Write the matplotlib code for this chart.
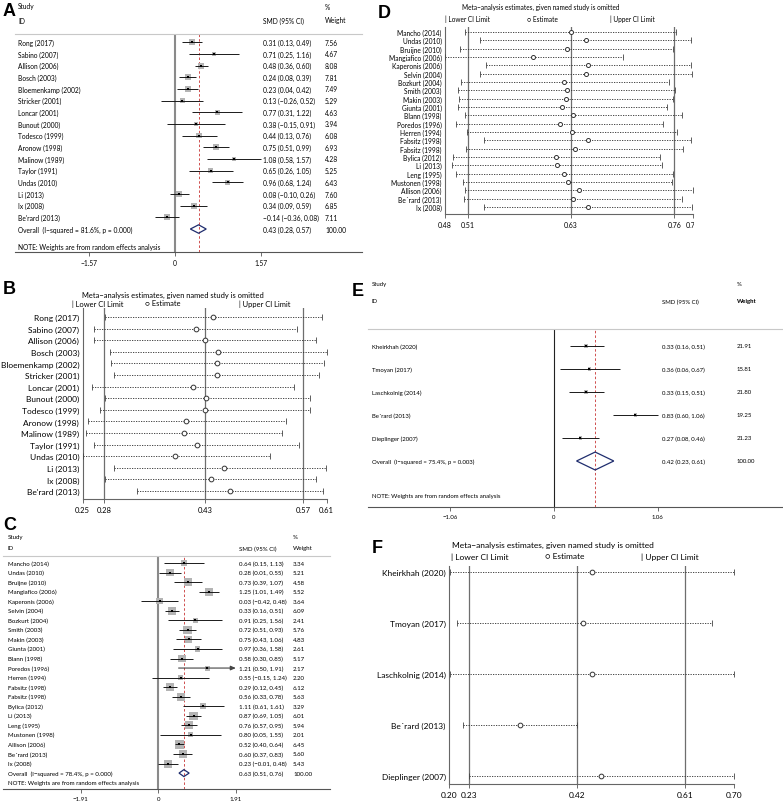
import numpy as np
import matplotlib
matplotlib.use("Agg")
import matplotlib.pyplot as plt
import matplotlib.transforms as mtransforms
from matplotlib.patches import Polygon

W, H = 783, 804
plt.rcParams['font.family'] = ['Lato', 'DejaVu Sans']

# ---------------- data ----------------
# panel A: forest plot
a_studies = ["Rong (2017)", "Sabino (2007)", "Allison (2006)", "Bosch (2003)",
             "Bloemenkamp (2002)", "Stricker (2001)", "Loncar (2001)", "Bunout (2000)",
             "Todesco (1999)", "Aronow (1998)", "Malinow (1989)", "Taylor (1991)",
             "Undas (2010)", "Li (2013)", "Ix (2008)", "Be'rard (2013)"]
a_smd = [0.31, 0.71, 0.48, 0.24, 0.23, 0.13, 0.77, 0.38, 0.44, 0.75, 1.08, 0.65, 0.96, 0.08, 0.34, -0.14]
a_lo = [0.13, 0.25, 0.36, 0.08, 0.04, -0.26, 0.31, -0.15, 0.13, 0.51, 0.58, 0.26, 0.68, -0.10, 0.09, -0.36]
a_hi = [0.49, 1.16, 0.60, 0.39, 0.42, 0.52, 1.22, 0.91, 0.76, 0.99, 1.57, 1.05, 1.24, 0.26, 0.59, 0.08]
a_wt = [7.56, 4.67, 8.08, 7.81, 7.49, 5.29, 4.63, 3.94, 6.08, 6.93, 4.28, 5.25, 6.43, 7.60, 6.85, 7.11]
a_overall = [0.43, 0.28, 0.57]
a_het = "Overall  (I\u2212squared = 81.6%, p = 0.000)"

# panel B: leave-one-out
b_studies = a_studies
b_est = [0.442, 0.417, 0.430, 0.449, 0.448, 0.447, 0.413, 0.432, 0.430, 0.403, 0.399, 0.418, 0.387, 0.458, 0.438, 0.466]
b_lo = [0.285, 0.268, 0.268, 0.292, 0.293, 0.298, 0.266, 0.284, 0.277, 0.259, 0.257, 0.269, 0.253, 0.297, 0.284, 0.331]
b_hi = [0.600, 0.564, 0.591, 0.607, 0.603, 0.596, 0.560, 0.583, 0.583, 0.548, 0.542, 0.566, 0.524, 0.606, 0.592, 0.602]
b_overall = [0.283, 0.430, 0.573]
b_xlim = [0.252, 0.607]

# panel C: forest plot
c_studies = ["Mancho (2014)", "Undas (2010)", "Bruijne (2010)", "Mangiafico (2006)",
             "Kaperonis (2006)", "Selvin (2004)", "Bozkurt (2004)", "Smith (2003)",
             "Makin (2003)", "Giunta (2001)", "Blann (1998)", "Poredos (1996)",
             "Herren (1994)", "Fabsitz (1998)", "Fabsitz (1998)", "Bylica (2012)",
             "Li (2013)", "Leng (1995)", "Mustonen (1998)", "Allison (2006)",
             "Be\u00b4rard (2013)", "Ix (2008)"]
c_smd = [0.64, 0.28, 0.73, 1.25, 0.03, 0.33, 0.91, 0.72, 0.75, 0.97, 0.58, 1.21, 0.55, 0.29, 0.56,
         1.11, 0.87, 0.76, 0.80, 0.52, 0.60, 0.23]
c_lo = [0.15, 0.01, 0.39, 1.01, -0.42, 0.16, 0.25, 0.51, 0.43, 0.36, 0.30, 0.50, -0.15, 0.12, 0.33,
        0.61, 0.69, 0.57, 0.05, 0.40, 0.37, -0.01]
c_hi = [1.13, 0.55, 1.07, 1.49, 0.48, 0.51, 1.56, 0.93, 1.06, 1.58, 0.85, 1.91, 1.24, 0.45, 0.78,
        1.61, 1.05, 0.95, 1.55, 0.64, 0.83, 0.48]
c_wt = [3.34, 5.21, 4.58, 5.52, 3.64, 6.09, 2.41, 5.76, 4.83, 2.61, 5.17, 2.17, 2.20, 6.12, 5.63,
        3.29, 6.01, 5.94, 2.01, 6.45, 5.60, 5.43]
c_overall = [0.63, 0.51, 0.76]
c_het = "Overall  (I\u2212squared = 78.4%, p = 0.000)"

# panel D: leave-one-out
d_studies = c_studies
d_est = [0.634, 0.652, 0.629, 0.588, 0.655, 0.652, 0.626, 0.629, 0.628, 0.623, 0.636, 0.620,
         0.635, 0.655, 0.639, 0.616, 0.617, 0.625, 0.630, 0.644, 0.636, 0.655]
d_lo = [0.504, 0.523, 0.498, 0.480, 0.530, 0.523, 0.499, 0.496, 0.497, 0.496, 0.505, 0.494,
        0.507, 0.528, 0.506, 0.490, 0.489, 0.494, 0.502, 0.505, 0.503, 0.528]
d_hi = [0.762, 0.780, 0.759, 0.698, 0.780, 0.782, 0.754, 0.761, 0.758, 0.751, 0.769, 0.746,
        0.763, 0.781, 0.771, 0.743, 0.745, 0.758, 0.757, 0.783, 0.769, 0.782]
d_overall = [0.508, 0.634, 0.760]
d_xlim = [0.48, 0.783]

# panel E: forest plot
e_studies = ["Kheirkhah (2020)", "Tmoyan (2017)", "Laschkolnig (2014)", "Be\u00b4rard (2013)",
             "Dieplinger (2007)"]
e_smd = [0.33, 0.36, 0.33, 0.83, 0.27]
e_lo = [0.16, 0.06, 0.15, 0.60, 0.08]
e_hi = [0.51, 0.67, 0.51, 1.06, 0.46]
e_wt = [21.91, 15.81, 21.80, 19.25, 21.23]
e_overall = [0.42, 0.23, 0.61]
e_het = "Overall  (I\u2212squared = 75.4%, p = 0.003)"

# panel F: leave-one-out
f_studies = e_studies
f_est = [0.450, 0.435, 0.451, 0.324, 0.466]
f_lo = [0.201, 0.213, 0.202, 0.224, 0.235]
f_hi = [0.700, 0.660, 0.700, 0.424, 0.699]
f_overall = [0.234, 0.424, 0.613]
f_xlim = [0.20, 0.70]

NOTE = "NOTE: Weights are from random effects analysis"
INF_TITLE = "Meta\u2212analysis estimates, given named study is omitted"

fig = plt.figure(figsize=(W / 100, H / 100), dpi=100)
# pixel coordinates, origin top-left
PX = mtransforms.Affine2D().scale(1.0 / W, -1.0 / H).translate(0, 1) + fig.transFigure


def axes_px(left, top, right, bottom):
    return fig.add_axes([left / W, 1 - bottom / H, (right - left) / W, (bottom - top) / H])


def num(v):
    return f"{v:.2f}".replace("-", "\u2212")


def letter(s, x, y):
    fig.text(x, y, s, transform=PX, fontsize=13, fontweight='bold',
             family='Liberation Sans', ha='left', va='center')


def forest(rect, studies, smd, lo, hi, wt, overall, het, zero_px, scale, row0, dy,
           cols, head_y, fs, tick_v, box_k, note_gap, dia_h, zero_color, zero_lw,
           arrow_at=None, bold_weight=False):
    left, top, right, bottom = rect
    ax = axes_px(*rect)
    ax.set_xlim((left - zero_px) / scale, (right - zero_px) / scale)
    ax.set_ylim((bottom - row0) / dy, (top - row0) / dy)
    tr = mtransforms.blended_transform_factory(PX, ax.transData)
    n = len(studies)
    idx = np.arange(n)
    smd, lo, hi, wt = map(np.asarray, (smd, lo, hi, wt))

    ax.axvline(0, color=zero_color, lw=zero_lw, zorder=1)
    ax.axvline(overall[0], color='#c83232', lw=0.6, ls=(0, (3, 2.5)), zorder=1)

    # weight boxes and point estimates
    side = box_k * np.sqrt(wt) * 0.72
    ax.scatter(smd, idx, marker='s', s=side ** 2, color='#b4b4b4', lw=0, zorder=2)
    if arrow_at is None:
        ax.hlines(idx, lo, hi, color='#1a1a1a', lw=0.7, zorder=3)
    else:
        ok = hi < arrow_at
        ax.hlines(idx[ok], lo[ok], hi[ok], color='#1a1a1a', lw=0.7, zorder=3)
        for i in idx[~ok]:
            ax.annotate('', xy=(arrow_at, i), xytext=(lo[i], i),
                        arrowprops=dict(arrowstyle='-|>,head_length=0.3,head_width=0.13',
                                        color='#444444', lw=0.8, shrinkA=0, shrinkB=0))
    ax.scatter(smd, idx, marker='s', s=4.5, color='black', lw=0, zorder=4)

    # overall diamond
    est, olo, ohi = overall
    ax.add_patch(Polygon([[olo, n], [est, n - dia_h], [ohi, n], [est, n + dia_h]],
                         closed=True, fill=False, ec='#1f2d6e', lw=0.9, zorder=4))

    # text columns
    for i in range(n):
        ax.text(cols[0], i, studies[i], transform=tr, fontsize=fs, va='center')
        ax.text(cols[1], i, f"{num(smd[i])} ({num(lo[i])}, {num(hi[i])})", transform=tr,
                fontsize=fs, va='center')
        ax.text(cols[2], i, f"{wt[i]:.2f}", transform=tr, fontsize=fs, va='center')
    ax.text(cols[0], n, het, transform=tr, fontsize=fs, va='center')
    ax.text(cols[1], n, f"{num(est)} ({num(olo)}, {num(ohi)})", transform=tr,
            fontsize=fs, va='center')
    ax.text(cols[2], n, "100.00", transform=tr, fontsize=fs, va='center')
    ax.text(cols[0], n + note_gap, NOTE, transform=tr, fontsize=fs, va='center')

    # header
    fig.text(cols[0], head_y[0], "Study", transform=PX, fontsize=fs, va='center')
    fig.text(cols[0], head_y[1], "ID", transform=PX, fontsize=fs, va='center')
    fig.text(cols[1], head_y[1], "SMD (95% CI)", transform=PX, fontsize=fs, va='center')
    fig.text(cols[2], head_y[0], "%", transform=PX, fontsize=fs, va='center')
    fig.text(cols[2], head_y[1], "Weight", transform=PX, fontsize=fs, va='center',
             fontweight='bold' if bold_weight else 'normal')

    for s in ('left', 'right'):
        ax.spines[s].set_visible(False)
    ax.spines['top'].set_color('#c8c8c8')
    ax.spines['top'].set_linewidth(0.8)
    ax.spines['bottom'].set_color('#555555')
    ax.spines['bottom'].set_linewidth(0.8)
    ax.set_yticks([])
    ax.set_xticks([-tick_v, 0, tick_v], [num(-tick_v), "0", num(tick_v)])
    ax.tick_params(axis='x', length=3, width=0.6, color='#555555', labelsize=fs, pad=2)
    return ax


def influence(rect, studies, est, lo, hi, overall, xlim, row0, dy, lab_fs, tick_fs,
              title_xy, legend_x, legend_y, head_fs, ms=3.4, clip_right=None):
    left, top, right, bottom = rect
    ax = axes_px(*rect)
    n = len(studies)
    idx = np.arange(n)
    ax.set_xlim(*xlim)
    ax.set_ylim((bottom - row0) / dy, (top - row0) / dy)
    for v in overall:
        ax.axvline(v, color='#6e6e6e', lw=0.9, zorder=1)
    ax.hlines(idx, lo, hi, colors='#2a2a2a', lw=0.6, linestyles=(0, (1.5, 1.5)), zorder=2)
    ax.plot(lo, idx, ls='none', marker='|', ms=4, mew=0.6, color='#444444', zorder=3)
    ax.plot(hi, idx, ls='none', marker='|', ms=4, mew=0.6, color='#444444', zorder=3)
    ax.plot(est, idx, ls='none', marker='o', ms=ms, mfc='white', mec='#333333',
            mew=0.7, zorder=4)
    ax.set_yticks(idx, studies)
    ax.tick_params(axis='y', length=0, pad=2.5, labelsize=lab_fs)
    ticks = [xlim[0], *overall, xlim[1]]
    ax.set_xticks(ticks, [f"{t:.2f}" for t in ticks])
    ax.tick_params(axis='x', length=3, width=0.6, color='#555555', labelsize=tick_fs, pad=2)
    for s in ('top', 'right'):
        ax.spines[s].set_visible(False)
    for s in ('left', 'bottom'):
        ax.spines[s].set_color('#666666')
        ax.spines[s].set_linewidth(0.8)
    if clip_right is not None:
        box = mtransforms.TransformedBbox(
            mtransforms.Bbox([[0, 0], [clip_right / W, 1]]), fig.transFigure)
        lbl = ax.get_xticklabels()[-1]
        lbl.set_clip_on(True)
        lbl.set_clip_box(box)

    fig.text(title_xy[0], title_xy[1], INF_TITLE, transform=PX, fontsize=head_fs, va='center')
    legend = ["| Lower CI Limit", "\u25cb Estimate", "| Upper CI Limit"]
    for x, s in zip(legend_x, legend):
        fig.text(x, legend_y, s, transform=PX, fontsize=head_fs, va='center')
    return ax


# ---------------- panels ----------------
letter("A", 3, 12)
forest((15, 35, 362, 253), a_studies, a_smd, a_lo, a_hi, a_wt, a_overall, a_het,
       zero_px=175, scale=54.8, row0=43.3, dy=11.67, cols=(18, 263, 325), head_y=(7, 21),
       fs=4.8, tick_v=1.57, box_k=2.2, note_gap=1.5, dia_h=0.36,
       zero_color='#8a8a8a', zero_lw=1.5)

letter("B", 3, 290)
influence((82.7, 309, 326.7, 500), b_studies, b_est, b_lo, b_hi, b_overall, b_xlim,
          row0=318, dy=11.6, lab_fs=6, tick_fs=5.5, title_xy=(82, 295),
          legend_x=(72, 145, 239), legend_y=304, head_fs=5.4)

letter("C", 3, 526)
forest((3, 557, 330, 790), c_studies, c_smd, c_lo, c_hi, c_wt, c_overall, c_het,
       zero_px=158.3, scale=40.6, row0=564, dy=9.55, cols=(8, 239, 293), head_y=(538, 549),
       fs=4.4, tick_v=1.91, box_k=3.4, note_gap=1.0, dia_h=0.36,
       zero_color='#8a8a8a', zero_lw=1.5, arrow_at=1.91)

letter("D", 378, 13)
influence((445, 28, 693, 215), d_studies, d_est, d_lo, d_hi, d_overall, d_xlim,
          row0=33, dy=8.33, lab_fs=4.8, tick_fs=5, title_xy=(462, 7),
          legend_x=(445, 527, 610), legend_y=19, head_fs=4.7, ms=2.9, clip_right=694)

letter("E", 352, 292)
forest((368, 330, 782, 508), e_studies, e_smd, e_lo, e_hi, e_wt, e_overall, e_het,
       zero_px=554, scale=98, row0=347, dy=23, cols=(372, 662, 737), head_y=(285, 302),
       fs=4.3, tick_v=1.06, box_k=0.8, note_gap=1.48, dia_h=0.39,
       zero_color='#222222', zero_lw=0.8, bold_weight=True)

letter("F", 372, 549)
influence((449.3, 567, 734.3, 785), f_studies, f_est, f_lo, f_hi, f_overall, f_xlim,
          row0=573, dy=51, lab_fs=6, tick_fs=6, title_xy=(452, 545),
          legend_x=(451, 545, 641), legend_y=557, head_fs=6)

fig.savefig("out.png", dpi=100)
